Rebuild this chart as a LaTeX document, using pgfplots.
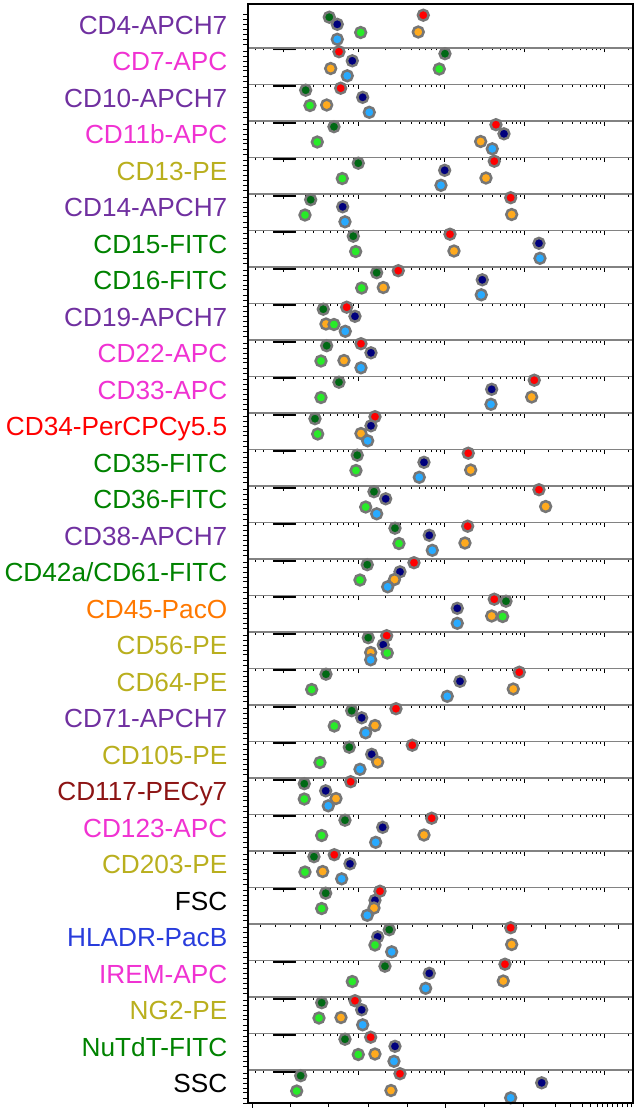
\documentclass[border=0pt]{standalone}
\usepackage{pgfplots}
\pgfplotsset{compat=1.18}
\usepgfplotslibrary{groupplots}
\usepackage{fontspec}
\setmainfont{Liberation Sans}
\definecolor{cpur}{RGB}{112,48,160}
\definecolor{cmag}{RGB}{240,50,210}
\definecolor{colive}{RGB}{185,175,30}
\definecolor{cgrn}{RGB}{0,130,0}
\definecolor{cred}{RGB}{255,0,0}
\definecolor{corg}{RGB}{255,120,0}
\definecolor{cdred}{RGB}{140,20,20}
\definecolor{cblue}{RGB}{40,60,220}
\definecolor{ring}{RGB}{118,118,118}
\definecolor{sepgray}{RGB}{130,130,130}
\definecolor{kdg}{RGB}{0,105,20}
\definecolor{kr}{RGB}{255,0,0}
\definecolor{kdb}{RGB}{0,0,125}
\definecolor{kg}{RGB}{40,235,40}
\definecolor{ko}{RGB}{255,170,30}
\definecolor{klb}{RGB}{40,170,255}
\pgfplotsset{dot/.style={only marks, mark=*, mark size=5.4pt,
  mark options={fill=#1, draw=ring, line width=2.5pt}}}
% arguments: darkgreen, red, darkblue, green, orange, lightblue (x positions)
\newcommand\sixdots[6]{%
\addplot[dot=kr] coordinates {(#2,3.7)};
\addplot[dot=kdg] coordinates {(#1,5.7)};
\addplot[dot=kdb] coordinates {(#3,12.8)};
\addplot[dot=ko] coordinates {(#5,20.5)};
\addplot[dot=kg] coordinates {(#4,21)};
\addplot[dot=klb] coordinates {(#6,27.8)};}
\begin{document}
\begin{tikzpicture}
\begin{groupplot}[
  group style={group size=1 by 30, vertical sep=0pt},
  scale only axis, width=385pt, height=36.5pt,
  xmin=248, xmax=633, ymin=0, ymax=36.5, y dir=reverse,
  clip=false,
  axis line style={draw=sepgray, line width=1.2pt},
  xtick pos=bottom, ytick pos=left, tick align=outside,
  xtick={283,358,444,524,604},
  minor xtick={255,263,273,274,...,295,305,313,323,330,337,343,348,353,385,400,411,419,425,431,436,440,468,482,492,500,506,512,516,520,548,562,572,580,586,592,596,600,628},
  xticklabels={},
  major tick length=4.5pt, minor tick length=2.5pt,
  tick style={black, line width=0.9pt},
  ytick={22.7}, extra y ticks={3,8,13,18,28,33}, extra y tick labels={},
  yticklabel style={anchor=base east, inner sep=0pt, font=\fontsize{26.2}{30}\selectfont},
  yticklabel shift=16pt,
]
\nextgroupplot[height=44pt, ymin=-7.5, yticklabels={{\color{cpur}CD4-APCH7}}]
\sixdots{329.3}{423.3}{337.3}{360.7}{418.3}{337.3}
\nextgroupplot[yticklabels={{\color{cmag}CD7-APC}}]
\sixdots{445}{339}{352.3}{439.3}{330.7}{347.3}
\nextgroupplot[yticklabels={{\color{cpur}CD10-APCH7}}]
\sixdots{305.7}{340.7}{362.7}{310}{326.7}{369.3}
\nextgroupplot[yticklabels={{\color{cmag}CD11b-APC}}]
\sixdots{334}{496}{504}{317.3}{480.7}{492.3}
\nextgroupplot[yticklabels={{\color{colive}CD13-PE}}]
\sixdots{358.3}{494.3}{444.7}{342.3}{486}{441}
\nextgroupplot[yticklabels={{\color{cpur}CD14-APCH7}}]
\sixdots{310.7}{510.7}{342.7}{305}{511.7}{345}
\nextgroupplot[yticklabels={{\color{cgrn}CD15-FITC}}]
\sixdots{353.3}{450}{539}{355.7}{454}{540}
\nextgroupplot[yticklabels={{\color{cgrn}CD16-FITC}}]
\sixdots{376.7}{398.3}{482.3}{361.7}{383.3}{481.3}
\nextgroupplot[yticklabels={{\color{cpur}CD19-APCH7}}]
\sixdots{323.3}{346.7}{355}{334}{326}{345.3}
\nextgroupplot[yticklabels={{\color{cmag}CD22-APC}}]
\sixdots{326.7}{361}{371}{321}{344}{361}
\nextgroupplot[yticklabels={{\color{cmag}CD33-APC}}]
\sixdots{339}{534.3}{491.7}{321}{531.7}{491}
\nextgroupplot[yticklabels={{\color{cred}CD34-PerCPCy5.5}}]
\sixdots{315}{375}{371}{317.7}{361}{367.7}
\nextgroupplot[yticklabels={{\color{cgrn}CD35-FITC}}]
\sixdots{357.3}{468.3}{424}{356}{470.7}{419.3}
\nextgroupplot[yticklabels={{\color{cgrn}CD36-FITC}}]
\sixdots{374}{539}{385.7}{365.7}{545.7}{376.7}
\nextgroupplot[yticklabels={{\color{cpur}CD38-APCH7}}]
\sixdots{395}{467.7}{429.3}{399}{465}{432.3}
\nextgroupplot[yticklabels={{\color{cgrn}CD42a/CD61-FITC}}]
\sixdots{367.3}{414}{400}{360}{394.5}{387.7}
\nextgroupplot[yticklabels={{\color{corg}CD45-PacO}}]
\sixdots{506}{494.3}{457.3}{502.7}{491.7}{457.3}
\nextgroupplot[yticklabels={{\color{colive}CD56-PE}}]
\sixdots{368.3}{386.7}{383.3}{387.3}{370.7}{370.7}
\nextgroupplot[yticklabels={{\color{colive}CD64-PE}}]
\sixdots{326}{519.3}{460}{311.7}{513.3}{447.3}
\nextgroupplot[yticklabels={{\color{cpur}CD71-APCH7}}]
\sixdots{351.7}{396}{361.7}{334.3}{375}{365.7}
\nextgroupplot[yticklabels={{\color{colive}CD105-PE}}]
\sixdots{349.3}{412.3}{371.7}{320}{377.7}{360}
\nextgroupplot[yticklabels={{\color{cdred}CD117-PECy7}}]
\sixdots{304.3}{350.7}{325.7}{304.3}{336}{328.3}
\nextgroupplot[yticklabels={{\color{cmag}CD123-APC}}]
\sixdots{345}{431.7}{382.7}{321.7}{424}{375.7}
\nextgroupplot[yticklabels={{\color{colive}CD203-PE}}]
\sixdots{314}{334.3}{350}{305}{322.7}{341.7}
\nextgroupplot[yticklabels={{\color{black}FSC}},
  xtick={320,397,472,545,618},
  minor xtick={260,275,290,305,335,350,366,381,412,427,442,457,487,502,516,531,560,575,589,604}]
\sixdots{325.7}{380}{375}{321.7}{374}{367.3}
\nextgroupplot[yticklabels={{\color{cblue}HLADR-PacB}}]
\sixdots{389.3}{510.7}{377.7}{375}{511.7}{391.7}
\nextgroupplot[yticklabels={{\color{cmag}IREM-APC}}]
\sixdots{385}{505}{429.3}{352.3}{503.3}{425.7}
\nextgroupplot[yticklabels={{\color{colive}NG2-PE}}]
\sixdots{321.7}{355}{361.7}{319}{341}{362.7}
\nextgroupplot[yticklabels={{\color{cgrn}NuTdT-FITC}}]
\sixdots{345}{370.7}{395}{358.3}{375}{394}
\nextgroupplot[height=33pt, ymax=33, yticklabels={{\color{black}SSC}},
  xtick={252.7,445},
  minor xtick={290,328,368,407,484,523,555,570,582,590,597,602,607,612,617,622,627,631},
  minor tick length=4pt]
\sixdots{300.7}{400}{541.7}{296.7}{391}{510.7}
\end{groupplot}
\draw[line width=2pt, black] (group c1r1.north west) rectangle (group c1r30.south east);
\pgfresetboundingbox
\path[use as bounding box] ([shift={(-248pt,4pt)}]group c1r1.north west) rectangle ([shift={(8pt,-12pt)}]group c1r30.south east);
\end{tikzpicture}
\end{document}
